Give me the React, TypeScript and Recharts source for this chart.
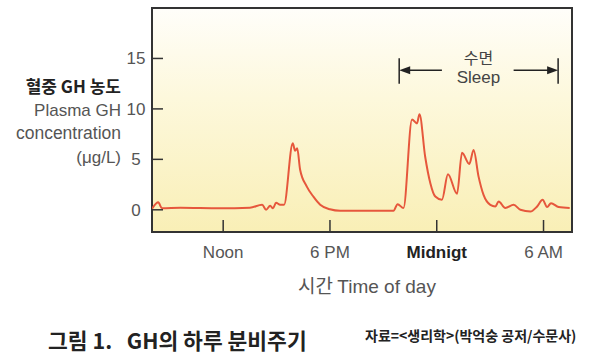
import { LineChart, Line, XAxis, YAxis, ReferenceArea, ReferenceLine, ReferenceDot } from "recharts";

// time of day in hours (8 = 8 AM, 24 = midnight, 30 = 6 AM next day)
const hours = [
	8.0, 8.35, 8.56, 9.6, 11.8, 13.5, 14.19, 14.41, 14.64, 14.8, 14.97, 15.2, 15.42, 15.91, 16.04, 16.16, 16.32, 16.7,
	17.07, 17.45, 18.0, 18.57, 21.57, 21.8, 22.13, 22.61, 22.89, 23.03, 23.35, 23.64, 23.92, 24.29, 24.63, 25.14, 25.42,
	25.83, 26.07, 26.35, 26.63, 27.01, 27.29, 27.48, 27.85, 28.32, 28.7, 29.26, 29.64, 29.95, 30.2, 30.42, 30.85, 31.47,
];
// plasma GH (µg/L)
const ghLevels = [
	0.1, 0.75, 0.15, 0.2, 0.15, 0.2, 0.5, 0.0, 0.4, 0.15, 0.7, 0.5, 0.5, 6.6, 5.85, 6.1, 4.0, 2.3,
	1.3, 0.5, 0.05, -0.1, -0.1, 0.56, 0.17, 8.95, 8.56, 9.48, 5.26, 2.64, 1.31, 0.99, 3.52, 1.58, 5.66,
	4.54, 5.92, 3.29, 1.48, 0.49, 0.33, 0.82, 0.17, 0.49, 0.0, -0.17, 0.33, 0.99, 0.27, 0.66, 0.27, 0.17,
];
const xTicks = [12, 18, 24, 30];
const xTickLabels = ["Noon", "6 PM", "Midnigt", "6 AM"];
const yTicks = [0, 5, 10, 15];
const xDomain = [8, 31.6];
const yDomain = [-2.2, 20];
// sleep period marker
const sleepStart = 21.89;
const sleepEnd = 30.82;
const sleepArrowLeftEnd = 24.29;
const sleepArrowRightStart = 28.32;
const sleepY = 13.82;
const sleepBarLow = 12.5;
const sleepBarHigh = 15.03;
const sleepLabelX = 26.34;

const data = hours.map((h, i) => ({ hour: h, gh: ghLevels[i] }));

const latin = "'Liberation Sans', 'Noto Sans CJK KR', sans-serif";
const korean = "'Noto Sans CJK KR', 'Liberation Sans', sans-serif";

function XTick({ x, y, payload }: any) {
	const idx = xTicks.indexOf(payload.value);
	const bold = idx === 2;
	return (
		<g>
			<line x1={x} x2={x} y1={y} y2={y - 12} stroke="#333" strokeWidth={1.5} />
			<text x={x} y={y + 26} textAnchor="middle" fontFamily={latin} fontSize={17}
				fontWeight={bold ? 700 : 400} fill={bold ? "#222" : "#555"}>
				{xTickLabels[idx]}
			</text>
		</g>
	);
}

function YTick({ x, y, payload }: any) {
	return (
		<g>
			<line x1={x} x2={x + 11} y1={y} y2={y} stroke="#333" strokeWidth={1.5} />
			<text x={x - 16} y={y + 6} textAnchor="middle" fontFamily={latin} fontSize={17} fill="#555">
				{payload.value}
			</text>
		</g>
	);
}

function leftArrow(p: any) {
	const { x1, y1, x2, y2 } = p;
	return (
		<g>
			<line x1={x1 + 8} y1={y1} x2={x2} y2={y2} stroke="#222" strokeWidth={1.5} />
			<polygon points={`${x1},${y1} ${x1 + 11},${y1 - 4} ${x1 + 11},${y1 + 4}`} fill="#222" />
		</g>
	);
}

function rightArrow(p: any) {
	const { x1, y1, x2, y2 } = p;
	return (
		<g>
			<line x1={x1} y1={y1} x2={x2 - 8} y2={y2} stroke="#222" strokeWidth={1.5} />
			<polygon points={`${x2},${y2} ${x2 - 11},${y2 - 4} ${x2 - 11},${y2 + 4}`} fill="#222" />
		</g>
	);
}

function SleepLabel({ cx, cy }: any) {
	return (
		<g>
			<text x={cx} y={cy - 6} textAnchor="middle" fontFamily={korean} fontSize={16} fill="#444">수면</text>
			<text x={cx} y={cy + 13} textAnchor="middle" fontFamily={latin} fontSize={17} fill="#444">Sleep</text>
		</g>
	);
}

export default function App() {
	return (
		<div style={{ position: "absolute", left: 0, top: 0, width: 600, height: 363, background: "#fff" }}>
			<svg width={600} height={363} style={{ position: "absolute", left: 0, top: 0 }}>
				<defs>
					<linearGradient id="ghBg" x1="0" y1="0" x2="0" y2="1">
						<stop offset="0%" stopColor="#fffefa" />
						<stop offset="40%" stopColor="#fdf8dc" />
						<stop offset="100%" stopColor="#f9efb6" />
					</linearGradient>
				</defs>
				<text x={121} y={93} textAnchor="end" fontFamily={korean} fontSize={17} fontWeight={700} fill="#222">혈중 GH 농도</text>
				<text x={121} y={116} textAnchor="end" fontFamily={latin} fontSize={17} fill="#555">Plasma GH</text>
				<text x={121} y={139} textAnchor="end" fontFamily={latin} fontSize={17.5} fill="#555">concentration</text>
				<text x={121} y={163} textAnchor="end" fontFamily={latin} fontSize={17} fill="#555">(μg/L)</text>
				<text x={367} y={293} textAnchor="middle" fontFamily={korean} fontSize={19} fill="#555">
					시간 <tspan fontFamily={latin}>Time of day</tspan>
				</text>
				<text x={48} y={349} fontFamily={korean} fontSize={21.5} fontWeight={700} fill="#222"
					style={{ whiteSpace: "pre" }}>그림 1.   GH의 하루 분비주기</text>
				<text x={365} y={341} fontFamily={korean} fontSize={14} fontWeight={700} fill="#222">자료=&lt;생리학&gt;(박억숭 공저/수문사)</text>
			</svg>
			<div style={{ position: "absolute", left: 0, top: 0 }}>
				<LineChart width={600} height={363} data={data} margin={{ top: 8, right: 28, bottom: 101, left: 0 }}>
					<XAxis dataKey="hour" type="number" domain={xDomain} ticks={xTicks} height={30} tickSize={0}
						tickMargin={0} axisLine={false} tick={<XTick />} interval={0} allowDataOverflow />
					<YAxis type="number" domain={yDomain} ticks={yTicks} width={152} tickSize={0} tickMargin={0}
						axisLine={false} tick={<YTick />} interval={0} allowDataOverflow />
					<ReferenceArea x1={xDomain[0]} x2={xDomain[1]} y1={yDomain[0]} y2={yDomain[1]}
						fill="url(#ghBg)" fillOpacity={1} stroke="#333" strokeWidth={2} />
					<ReferenceLine segment={[{ x: sleepStart, y: sleepBarLow }, { x: sleepStart, y: sleepBarHigh }]}
						stroke="#222" strokeWidth={1.5} />
					<ReferenceLine segment={[{ x: sleepEnd, y: sleepBarLow }, { x: sleepEnd, y: sleepBarHigh }]}
						stroke="#222" strokeWidth={1.5} />
					<ReferenceLine segment={[{ x: sleepStart, y: sleepY }, { x: sleepArrowLeftEnd, y: sleepY }]}
						shape={leftArrow} />
					<ReferenceLine segment={[{ x: sleepArrowRightStart, y: sleepY }, { x: sleepEnd, y: sleepY }]}
						shape={rightArrow} />
					<ReferenceDot x={sleepLabelX} y={sleepY} r={0} shape={SleepLabel} />
					<Line type="monotone" dataKey="gh" stroke="#e6573c" strokeWidth={2} dot={false}
						activeDot={false} isAnimationActive={false} />
				</LineChart>
			</div>
		</div>
	);
}
